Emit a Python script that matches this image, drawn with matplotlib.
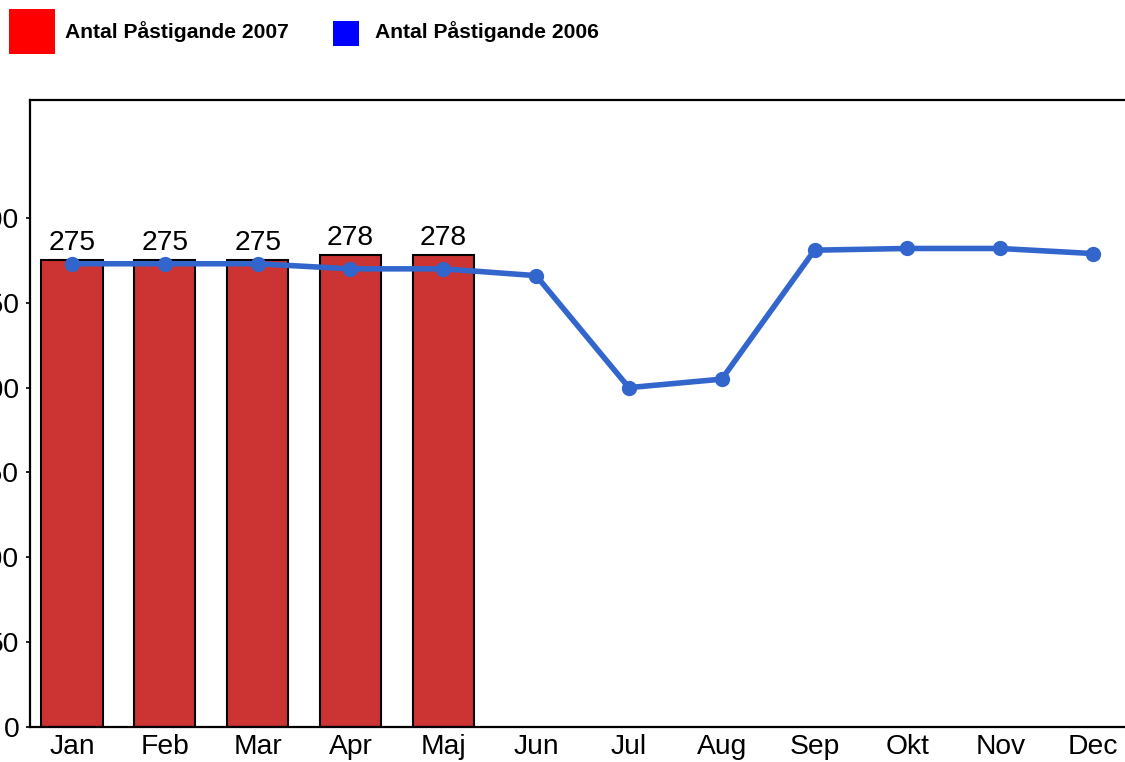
import matplotlib
matplotlib.use("Agg")
import matplotlib.pyplot as plt
from matplotlib.patches import Rectangle

months = ["Jan", "Feb", "Mar", "Apr", "Maj", "Jun", "Jul", "Aug", "Sep", "Okt", "Nov", "Dec"]
values_2007 = [275, 275, 275, 278, 278]
values_2006 = [273, 273, 273, 270, 270, 266, 200, 205, 281, 282, 282, 279]
yticks = [0, 50, 100, 150, 200, 250, 300]
legend_labels = ["Antal Påstigande 2007", "Antal Påstigande 2006"]

plt.rcParams['font.family'] = ['Liberation Sans', 'DejaVu Sans']

W, H = 1125, 762
fig = plt.figure(figsize=(W / 100, H / 100), dpi=100)

left_px, top_px, bot_px = 30, 100, 727
xmin, xmax = -0.4526, 11.45
unit = (1093 - 72) / 11
right_px = left_px + (xmax - xmin) * unit
ax = fig.add_axes([left_px / W, 1 - bot_px / H, (right_px - left_px) / W, (bot_px - top_px) / H])

x_all = list(range(len(months)))
ax.bar(x_all[:len(values_2007)], values_2007, width=0.66, color="#CC3333",
       edgecolor="black", linewidth=1.5, zorder=2)
for xi, v in zip(x_all, values_2007):
    ax.text(xi, v + 2.5, str(v), ha="center", va="bottom", fontsize=20.3, color="black", zorder=4)

ax.plot(x_all, values_2006, color="#3366CC", linewidth=4, marker="o", markersize=10, zorder=3)

ax.set_xlim(xmin, xmax)
ax.set_ylim(0, 369.5)
ax.set_xticks(x_all)
ax.set_xticklabels(months, fontsize=20.3)
ax.set_yticks(yticks)
ax.set_yticklabels([str(t) for t in yticks], fontsize=20.3)
ax.tick_params(axis="x", length=0, pad=5)
ax.tick_params(axis="y", length=3.2, width=1.2, pad=4.5)
for s in ["left", "bottom", "top"]:
    ax.spines[s].set_linewidth(1.6)
ax.spines["right"].set_visible(False)

fig.patches.append(Rectangle((9 / W, 1 - 54 / H), 46 / W, 45 / H, transform=fig.transFigure,
                             facecolor="#FF0000", edgecolor="none"))
fig.text(65 / W, 1 - 32 / H, legend_labels[0], fontsize=15.2, fontweight="bold", va="center", ha="left")
fig.patches.append(Rectangle((333 / W, 1 - 46 / H), 26 / W, 25 / H, transform=fig.transFigure,
                             facecolor="#0000FF", edgecolor="none"))
fig.text(375 / W, 1 - 32 / H, legend_labels[1], fontsize=15.2, fontweight="bold", va="center", ha="left")

fig.savefig("out.png", dpi=100)
